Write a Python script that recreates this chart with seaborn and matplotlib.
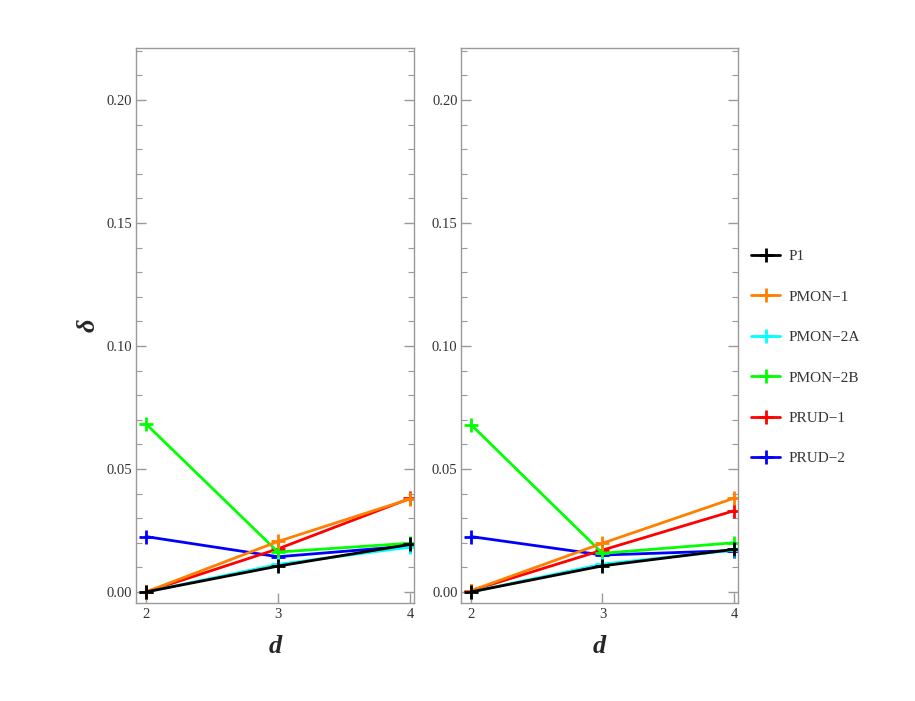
import seaborn as sns
from matplotlib import pyplot as plt
from matplotlib.ticker import MultipleLocator, FixedLocator

# data
d_values = [2, 3, 4]
series_names = ["P1", "PMON−1", "PMON−2A", "PMON−2B", "PRUD−1", "PRUD−2"]
series_colors = ["#000000", "#FF8000", "#00FFFF", "#00FF00", "#FF0000", "#0000FF"]

left_p1 = [0.0, 0.0105, 0.0193]
left_pmon1 = [0.0, 0.0205, 0.0378]
left_pmon2a = [0.0, 0.0112, 0.0182]
left_pmon2b = [0.0683, 0.0162, 0.0198]
left_prud1 = [0.0, 0.0175, 0.0380]
left_prud2 = [0.0225, 0.0143, 0.0187]

right_p1 = [0.0, 0.0106, 0.0173]
right_pmon1 = [0.0005, 0.0198, 0.0381]
right_pmon2a = [0.0, 0.0113, 0.0170]
right_pmon2b = [0.0680, 0.0157, 0.0200]
right_prud1 = [0.0005, 0.0170, 0.0330]
right_prud2 = [0.0225, 0.0150, 0.0168]

left_data = [left_p1, left_pmon1, left_pmon2a, left_pmon2b, left_prud1, left_prud2]
right_data = [right_p1, right_pmon1, right_pmon2a, right_pmon2b, right_prud1, right_prud2]

sns.set_style("white")
plt.rcParams['font.family'] = ['Liberation Serif', 'DejaVu Serif']

fig = plt.figure(figsize=(9.15, 7.01), dpi=100)
ax1 = fig.add_axes([0.1486, 0.1398, 0.3038, 0.7917])
ax2 = fig.add_axes([0.5038, 0.1398, 0.3027, 0.7917])

frame_gray = "#999999"
text_gray = "#333333"

for ax, data in [(ax1, left_data), (ax2, right_data)]:
    # draw in reverse so P1 ends up on top
    for name, color, vals in reversed(list(zip(series_names, series_colors, data))):
        sns.lineplot(x=d_values, y=vals, color=color, ax=ax, label=name,
                     linewidth=2, marker="+", markersize=10, markeredgewidth=2,
                     markeredgecolor=color)
    ax.set_xlim(1.924, 4.03)
    ax.set_ylim(-0.0045, 0.2211)
    ax.xaxis.set_major_locator(FixedLocator(d_values))
    ax.yaxis.set_major_locator(MultipleLocator(0.05))
    ax.yaxis.set_minor_locator(MultipleLocator(0.01))
    ax.yaxis.set_major_formatter(plt.FormatStrFormatter("%.2f"))
    ax.tick_params(axis="y", which="both", direction="in", left=True, right=True,
                   color=frame_gray, labelcolor=text_gray, labelsize=10.5, pad=2.5)
    ax.tick_params(axis="y", which="major", length=7, width=1)
    ax.tick_params(axis="y", which="minor", length=4, width=0.8)
    ax.tick_params(axis="x", which="major", direction="in", bottom=True, top=False,
                   length=7, width=1, color=frame_gray, labelcolor=text_gray, labelsize=10.5)
    for sp in ax.spines.values():
        sp.set_color(frame_gray)
        sp.set_linewidth(1)
    ax.set_xlabel("d", fontsize=19, fontweight="bold", fontstyle="italic", labelpad=10)
    ax.set_ylabel("")
    ax.get_legend().remove()

ax1.set_ylabel("δ", fontsize=19, fontweight="bold", fontstyle="italic", labelpad=5)

# legend in original order, beside the right panel
handles, labels = ax2.get_legend_handles_labels()
order = [labels.index(n) for n in series_names]
fig.legend([handles[i] for i in order], [labels[i] for i in order],
           loc="center left", bbox_to_anchor=(0.821, 0.49), frameon=False,
           fontsize=11, labelspacing=1.75, handlelength=1.9, handletextpad=0.55,
           borderpad=0, borderaxespad=0, labelcolor=text_gray)

fig.savefig("out.png", dpi=100)
